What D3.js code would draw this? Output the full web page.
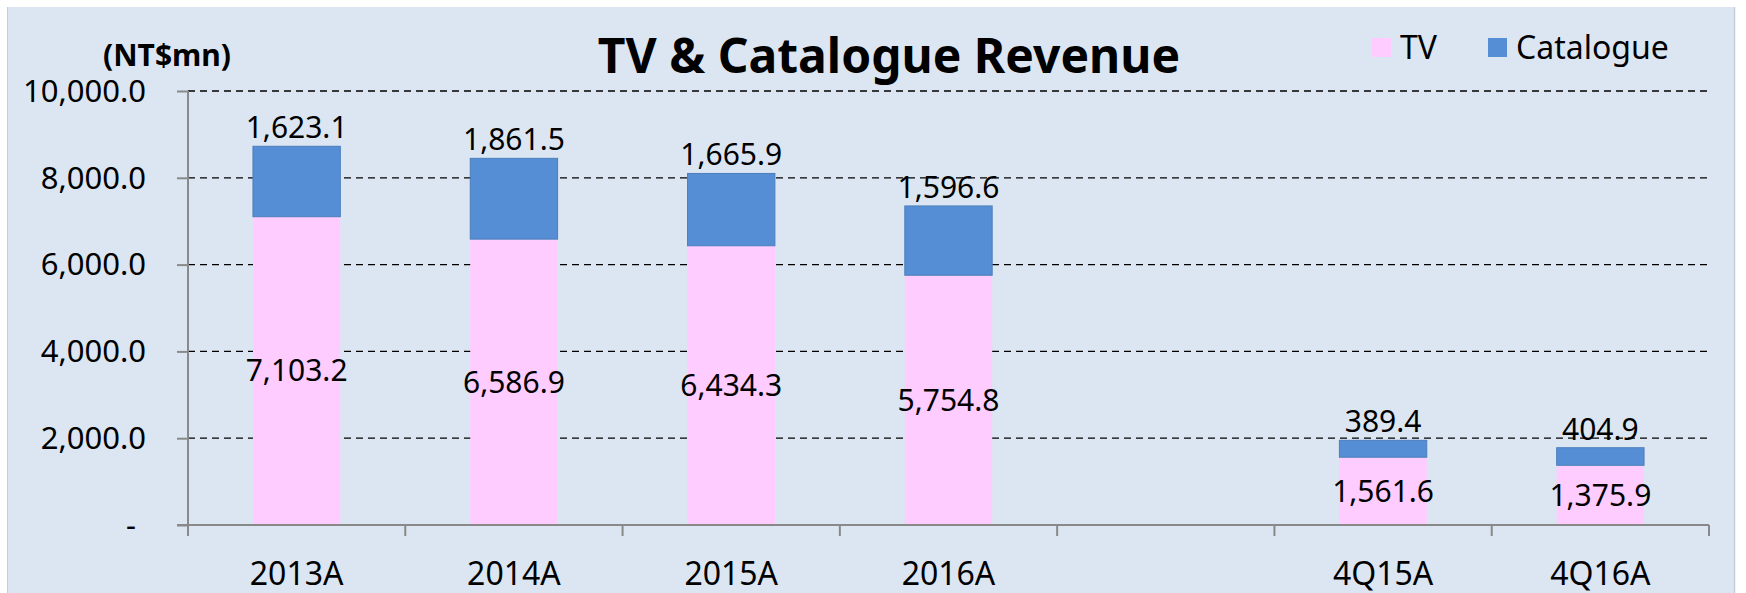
<!DOCTYPE html>
<html>
<head>
<meta charset="utf-8">
<script src="https://cdn.jsdelivr.net/npm/d3@7/dist/d3.min.js"></script>
<style>
  html, body { margin: 0; padding: 0; background: #ffffff; }
  svg { display: block; }
  text { font-family: "Noto Sans", "Open Sans", sans-serif; fill: #000; }
</style>
</head>
<body>
<svg id="chart" width="1746" height="593"></svg>
<script>
// ---- data ----
const categories = ["2013A", "2014A", "2015A", "2016A", "", "4Q15A", "4Q16A"];
const tvValues = [7103.2, 6586.9, 6434.3, 5754.8, null, 1561.6, 1375.9];
const catalogueValues = [1623.1, 1861.5, 1665.9, 1596.6, null, 389.4, 404.9];
const yTickValues = [0, 2000, 4000, 6000, 8000, 10000];
const yTickLabels = ["-", "2,000.0", "4,000.0", "6,000.0", "8,000.0", "10,000.0"];
const seriesNames = ["TV", "Catalogue"];
const titleText = "TV & Catalogue Revenue";
const unitText = "(NT$mn)";

// ---- style ----
const colTV = "#ffccff";
const colCat = "#558ed5";
const colCatStroke = "#4a7ebb";
const axisCol = "#898989";

const svg = d3.select("#chart");

// background panel
svg.append("rect").attr("x", 7).attr("y", 7).attr("width", 1727).attr("height", 600)
  .attr("fill", "#dce6f2");
svg.append("line").attr("x1", 7.5).attr("x2", 7.5).attr("y1", 7).attr("y2", 593)
  .attr("stroke", "#c9ced6").attr("stroke-width", 1);
svg.append("line").attr("x1", 1734.5).attr("x2", 1734.5).attr("y1", 7).attr("y2", 593)
  .attr("stroke", "#c9ced6").attr("stroke-width", 1.5);

const plotLeft = 188, plotRight = 1709, plotTop = 91, plotBottom = 525;

const x = d3.scaleBand().domain(d3.range(categories.length))
  .range([plotLeft, plotRight]).padding(0);
const y = d3.scaleLinear().domain([0, 10000]).range([plotBottom, plotTop]);
const barW = x.bandwidth() * 0.402;

// gridlines
svg.append("g").selectAll("line").data(yTickValues.filter(v => v > 0)).join("line")
  .attr("x1", plotLeft).attr("x2", plotRight)
  .attr("y1", d => y(d)).attr("y2", d => y(d))
  .attr("stroke", "#000").attr("stroke-width", 1.3).attr("stroke-dasharray", "7,5");

// bars
const rows = categories.map((c, i) => ({ c, i, tv: tvValues[i], cat: catalogueValues[i] }))
  .filter(d => d.tv != null);

const gBars = svg.append("g");
gBars.selectAll("rect.tv").data(rows).join("rect").attr("class", "tv")
  .attr("x", d => x(d.i) + (x.bandwidth() - barW) / 2)
  .attr("width", barW)
  .attr("y", d => y(d.tv))
  .attr("height", d => y(0) - y(d.tv))
  .attr("fill", colTV);
gBars.selectAll("rect.cat").data(rows).join("rect").attr("class", "cat")
  .attr("x", d => x(d.i) + (x.bandwidth() - barW) / 2)
  .attr("width", barW)
  .attr("y", d => y(d.tv + d.cat))
  .attr("height", d => y(d.tv) - y(d.tv + d.cat))
  .attr("fill", colCat).attr("stroke", colCatStroke).attr("stroke-width", 1);

// axes
const yAxis = d3.axisLeft(y).tickValues(yTickValues).tickSize(11).tickFormat("");
const gy = svg.append("g").attr("transform", `translate(${plotLeft},0)`).call(yAxis);
gy.select(".domain").attr("stroke", axisCol).attr("stroke-width", 2).attr("d", `M0,${plotTop}V${plotBottom}`);
gy.selectAll(".tick line").attr("stroke", axisCol).attr("stroke-width", 2);

const xEdges = d3.range(categories.length + 1).map(i => plotLeft + i * x.step());
svg.append("line").attr("x1", plotLeft - 11).attr("x2", plotRight)
  .attr("y1", plotBottom).attr("y2", plotBottom)
  .attr("stroke", axisCol).attr("stroke-width", 2);
svg.append("g").selectAll("line").data(xEdges).join("line")
  .attr("x1", d => d).attr("x2", d => d)
  .attr("y1", plotBottom).attr("y2", plotBottom + 11)
  .attr("stroke", axisCol).attr("stroke-width", 2);

// y tick labels
svg.append("g").selectAll("text").data(yTickValues).join("text")
  .attr("x", (d, i) => i === 0 ? 131 : 146)
  .attr("y", d => y(d))
  .attr("dy", "0.35em")
  .attr("text-anchor", (d, i) => i === 0 ? "middle" : "end")
  .style("font-size", "31px")
  .text((d, i) => yTickLabels[i]);

// x labels
svg.append("g").selectAll("text").data(categories.map((c, i) => ({ c, i }))).join("text")
  .attr("x", d => x(d.i) + x.bandwidth() / 2)
  .attr("y", 574)
  .attr("dy", "0.35em")
  .attr("text-anchor", "middle")
  .style("font-size", "32px")
  .text(d => d.c);

// data labels
const gLab = svg.append("g");
gLab.selectAll("text.tvl").data(rows).join("text").attr("class", "tvl")
  .attr("x", d => x(d.i) + x.bandwidth() / 2)
  .attr("y", d => (y(0) + y(d.tv)) / 2)
  .attr("dy", "0.35em")
  .attr("text-anchor", "middle")
  .style("font-size", "30px")
  .text(d => d3.format(",.1f")(d.tv));
gLab.selectAll("text.catl").data(rows).join("text").attr("class", "catl")
  .attr("x", d => x(d.i) + x.bandwidth() / 2)
  .attr("y", d => y(d.tv + d.cat) - 8)
  .attr("text-anchor", "middle")
  .style("font-size", "30px")
  .text(d => d3.format(",.1f")(d.cat));

// title and unit
svg.append("text").attr("x", 889).attr("y", 56).attr("dy", "0.35em")
  .attr("text-anchor", "middle").style("font-size", "48px").style("font-weight", "bold")
  .text(titleText);
svg.append("text").attr("x", 167).attr("y", 55).attr("dy", "0.35em")
  .attr("text-anchor", "middle").style("font-size", "30px").style("font-weight", "bold")
  .text(unitText);

// legend
const legendItems = [
  { name: seriesNames[0], color: colTV, sx: 1372, tx: 1400 },
  { name: seriesNames[1], color: colCat, sx: 1488, tx: 1516 }
];
const gLeg = svg.append("g");
gLeg.selectAll("rect").data(legendItems).join("rect")
  .attr("x", d => d.sx).attr("y", 38).attr("width", 19).attr("height", 19)
  .attr("fill", d => d.color);
gLeg.selectAll("text").data(legendItems).join("text")
  .attr("x", d => d.tx).attr("y", 48).attr("dy", "0.35em")
  .style("font-size", "32px")
  .text(d => d.name);
</script>
</body>
</html>
